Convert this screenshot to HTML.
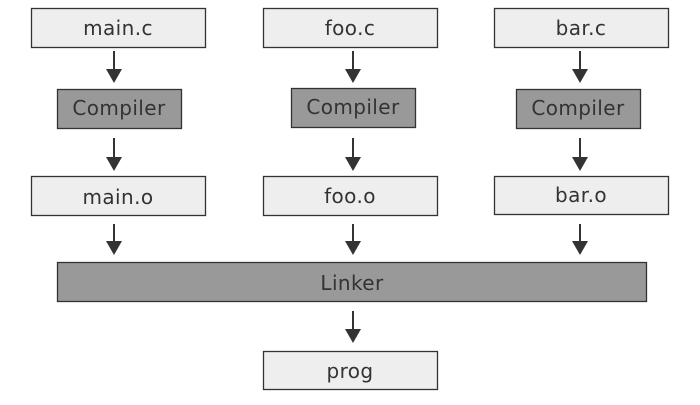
<!DOCTYPE html>
<html><head><style>body{margin:0;background:#fff}</style></head><body>
<svg width="700" height="400" xmlns="http://www.w3.org/2000/svg" font-family="DejaVu Sans, Liberation Sans, sans-serif" font-size="20" letter-spacing="0.4" fill="#333">
<g stroke="#333" stroke-width="1.3">
<rect x="31.5" y="8.5" width="174" height="39" fill="#eee"/>
<rect x="263.5" y="8.5" width="174" height="39" fill="#eee"/>
<rect x="494.5" y="8.5" width="174" height="39" fill="#eee"/>
<rect x="57.5" y="89.5" width="124" height="39" fill="#999"/>
<rect x="291.5" y="88.5" width="124" height="39" fill="#999"/>
<rect x="516.5" y="89.5" width="124" height="39" fill="#999"/>
<rect x="31.5" y="176.5" width="174" height="39" fill="#eee"/>
<rect x="263.5" y="176.5" width="174" height="39" fill="#eee"/>
<rect x="494.5" y="176.5" width="174" height="38" fill="#eee"/>
<rect x="57.5" y="262.5" width="589" height="39" fill="#999"/>
<rect x="263.5" y="351.5" width="174" height="38" fill="#eee"/>
</g>
<g stroke="#333" stroke-width="2">
<line x1="114" y1="51" x2="114" y2="70"/><line x1="353" y1="51" x2="353" y2="70"/><line x1="580" y1="51" x2="580" y2="70"/>
<line x1="114" y1="138" x2="114" y2="158"/><line x1="353" y1="138" x2="353" y2="158"/><line x1="580" y1="138" x2="580" y2="158"/>
<line x1="114" y1="224" x2="114" y2="242"/><line x1="353" y1="224" x2="353" y2="242"/><line x1="580" y1="224" x2="580" y2="242"/>
<line x1="353" y1="311" x2="353" y2="330"/>
</g>
<g fill="#333">
<path d="M106,69 h16 l-8,14z"/><path d="M345,69 h16 l-8,14z"/><path d="M572,69 h16 l-8,14z"/>
<path d="M106,157 h16 l-8,14z"/><path d="M345,157 h16 l-8,14z"/><path d="M572,157 h16 l-8,14z"/>
<path d="M106,241 h16 l-8,14z"/><path d="M345,241 h16 l-8,14z"/><path d="M572,241 h16 l-8,14z"/>
<path d="M345,329 h16 l-8,14z"/>
</g>
<g text-anchor="middle">
<text x="118" y="35">main.c</text><text x="350" y="35">foo.c</text><text x="581" y="35">bar.c</text>
<text x="119" y="115">Compiler</text><text x="353" y="114">Compiler</text><text x="578" y="115">Compiler</text>
<text x="118" y="204">main.o</text><text x="350" y="203">foo.o</text><text x="581" y="202">bar.o</text>
<text x="352" y="290">Linker</text><text x="350" y="378">prog</text>
</g>
</svg>
</body></html>
